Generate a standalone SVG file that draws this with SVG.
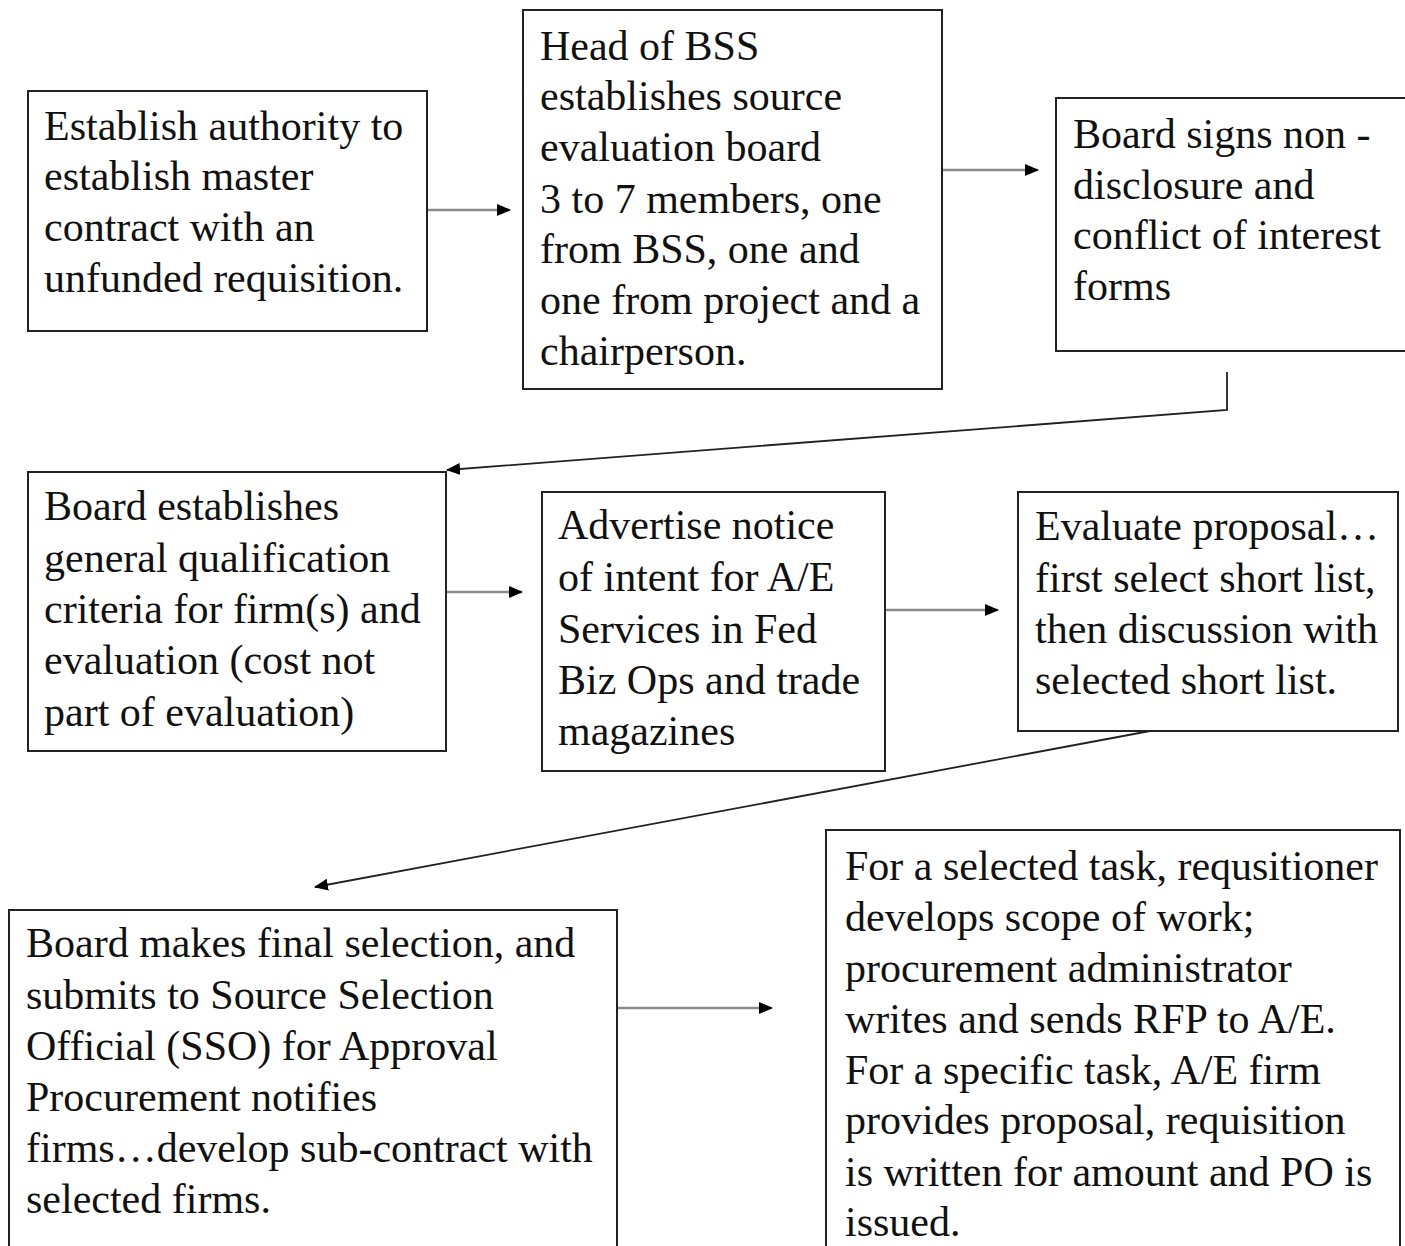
<svg xmlns="http://www.w3.org/2000/svg" width="1405" height="1246" viewBox="0 0 1405 1246">
<style>
.box{fill:#fff;stroke:#222;stroke-width:2}
.t{font-family:"Liberation Serif","Times New Roman",serif;font-size:42px;fill:#111}
.h{stroke:#8a8a8a;stroke-width:2.5;fill:none}
.d{stroke:#222;stroke-width:1.8;fill:none}
</style>
<defs>
<marker id="ah" markerWidth="14" markerHeight="12" refX="13" refY="6" orient="auto" markerUnits="userSpaceOnUse">
<path d="M0,0 L14,6 L0,12 Z" fill="#000"/>
</marker>
</defs>
<rect width="1405" height="1246" fill="#fff"/>
<g id="connectors">
<line class="h" x1="427" y1="210" x2="510" y2="210" marker-end="url(#ah)"/>
<line class="h" x1="942" y1="170" x2="1038" y2="170" marker-end="url(#ah)"/>
<polyline class="d" points="1227,372 1227,410 447,470" marker-end="url(#ah)"/>
<line class="h" x1="446" y1="592" x2="522" y2="592" marker-end="url(#ah)"/>
<line class="h" x1="885" y1="610" x2="998" y2="610" marker-end="url(#ah)"/>
<line class="d" x1="1150" y1="731" x2="315" y2="887" marker-end="url(#ah)"/>
<line class="h" x1="617" y1="1008" x2="772" y2="1008" marker-end="url(#ah)"/>
</g>
<g id="n1">
<rect class="box" x="28" y="91" width="399" height="240"/>
<text class="t" x="44" y="140">Establish authority to</text>
<text class="t" x="44" y="190">establish master</text>
<text class="t" x="44" y="241">contract with an</text>
<text class="t" x="44" y="292">unfunded requisition.</text>
</g>
<g id="n2">
<rect class="box" x="523" y="10" width="419" height="379"/>
<text class="t" x="540" y="60">Head of BSS</text>
<text class="t" x="540" y="110">establishes source</text>
<text class="t" x="540" y="161">evaluation board</text>
<text class="t" x="540" y="213">3 to 7 members, one</text>
<text class="t" x="540" y="263">from BSS, one and</text>
<text class="t" x="540" y="314">one from project and a</text>
<text class="t" x="540" y="365">chairperson.</text>
</g>
<g id="n3">
<rect class="box" x="1056" y="98" width="360" height="253"/>
<text class="t" x="1073" y="148">Board signs non -</text>
<text class="t" x="1073" y="199">disclosure and</text>
<text class="t" x="1073" y="249">conflict of interest</text>
<text class="t" x="1073" y="300">forms</text>
</g>
<g id="n4">
<rect class="box" x="28" y="472" width="418" height="279"/>
<text class="t" x="44" y="520">Board establishes</text>
<text class="t" x="44" y="572">general qualification</text>
<text class="t" x="44" y="623">criteria for firm(s) and</text>
<text class="t" x="44" y="674">evaluation (cost not</text>
<text class="t" x="44" y="726">part of evaluation)</text>
</g>
<g id="n5">
<rect class="box" x="542" y="492" width="343" height="279"/>
<text class="t" x="558" y="539">Advertise notice</text>
<text class="t" x="558" y="591">of intent for A/E</text>
<text class="t" x="558" y="643">Services in Fed</text>
<text class="t" x="558" y="694">Biz Ops and trade</text>
<text class="t" x="558" y="745">magazines</text>
</g>
<g id="n6">
<rect class="box" x="1018" y="492" width="380" height="239"/>
<text class="t" x="1035" y="540">Evaluate proposal…</text>
<text class="t" x="1035" y="592">first select short list,</text>
<text class="t" x="1035" y="643">then discussion with</text>
<text class="t" x="1035" y="694">selected short list.</text>
</g>
<g id="n7">
<rect class="box" x="9" y="910" width="608" height="350"/>
<text class="t" x="26" y="957">Board makes final selection, and</text>
<text class="t" x="26" y="1009">submits to Source Selection</text>
<text class="t" x="26" y="1060">Official (SSO) for Approval</text>
<text class="t" x="26" y="1111">Procurement notifies</text>
<text class="t" x="26" y="1162">firms…develop sub-contract with</text>
<text class="t" x="26" y="1213">selected firms.</text>
</g>
<g id="n8">
<rect class="box" x="826" y="830" width="574" height="430"/>
<text class="t" x="845" y="880">For a selected task, requsitioner</text>
<text class="t" x="845" y="931">develops scope of work;</text>
<text class="t" x="845" y="982">procurement administrator</text>
<text class="t" x="845" y="1033">writes and sends RFP to A/E.</text>
<text class="t" x="845" y="1084">For a specific task, A/E firm</text>
<text class="t" x="845" y="1134">provides proposal, requisition</text>
<text class="t" x="845" y="1186">is written for amount and PO is</text>
<text class="t" x="845" y="1236">issued.</text>
</g>
</svg>
